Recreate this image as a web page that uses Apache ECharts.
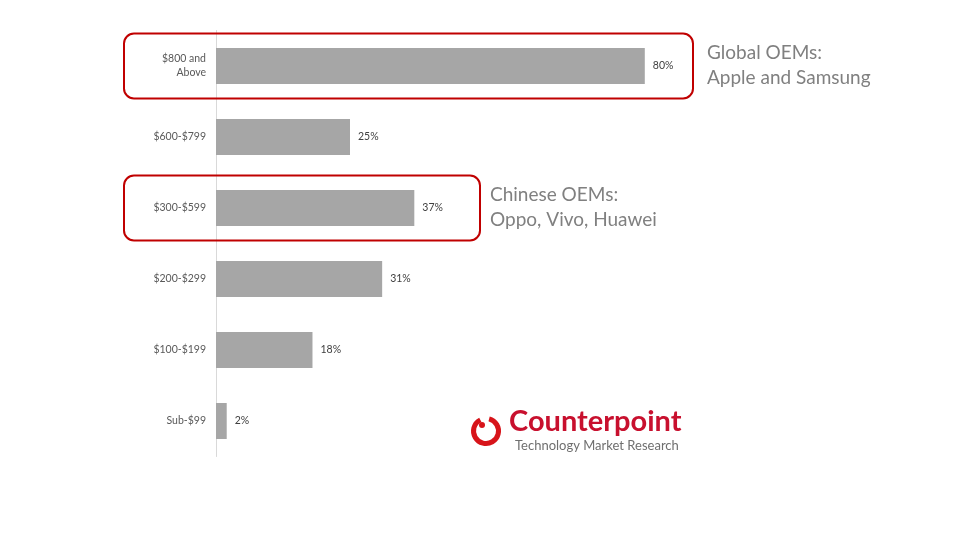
<!DOCTYPE html>
<html><head><meta charset="utf-8">
<script src="https://cdn.jsdelivr.net/npm/echarts@6/dist/echarts.min.js"></script>
<style>html,body{margin:0;padding:0;background:#fff}#c{width:960px;height:540px}</style>
</head><body><div id="c"></div>
<script>
const categories = ["$800 and\nAbove", "$600-$799", "$300-$599", "$200-$299", "$100-$199", "Sub-$99"];
const values = [80, 25, 37, 31, 18, 2];

const chart = echarts.init(document.getElementById('c'));
const FONT = 'Lato, "Open Sans", sans-serif';
chart.setOption({
  animation: false,
  backgroundColor: '#ffffff',
  grid: {left: 216, top: 30.5, width: 536, height: 426},
  xAxis: {type: 'value', min: 0, max: 100, show: false},
  yAxis: {
    type: 'category', inverse: true, data: categories,
    axisLine: {show: true, lineStyle: {color: '#d9d9d9', width: 1}},
    axisTick: {show: false},
    axisLabel: {color: '#595959', fontSize: 10.5, fontFamily: FONT, margin: 10, lineHeight: 14, align: 'right'}
  },
  series: [{
    type: 'bar', data: values, barWidth: 36,
    itemStyle: {color: '#a6a6a6'},
    label: {show: true, position: 'right', distance: 8, formatter: '{c}%', color: '#404040', fontSize: 10.5, fontFamily: FONT}
  }]
});

function box(idx, x1, x2) {
  const y = chart.convertToPixel({yAxisIndex: 0}, categories[idx]);
  return {type: 'rect', shape: {x: x1, y: y - 32.5, width: x2 - x1, height: 65, r: 10},
    style: {fill: 'none', stroke: '#c00000', lineWidth: 2}, z: 10};
}
function note(idx, x, lines) {
  const y = chart.convertToPixel({yAxisIndex: 0}, categories[idx]);
  return {type: 'text', x: x, y: y - 26, z: 10,
    style: {text: lines.join('\n'), fill: '#808080', font: '19px ' + FONT, lineHeight: 25}};
}
chart.setOption({
  graphic: [
    box(0, 124, 693), box(2, 124, 480),
    note(0, 707, ['Global OEMs:', 'Apple and Samsung']),
    note(2, 490, ['Chinese OEMs:', 'Oppo, Vivo, Huawei']),
    {type: 'arc', shape: {cx: 486, cy: 431, r: 12.5, startAngle: -Math.PI * 0.42, endAngle: Math.PI * 1.35},
      style: {stroke: '#d7141a', lineWidth: 5, fill: 'none'}, z: 10},
    {type: 'circle', shape: {cx: 482, cy: 425, r: 3}, style: {fill: '#d7141a'}, z: 10},
    {type: 'text', x: 509, y: 407, z: 10,
      style: {text: 'Counterpoint', fill: '#c8102e', font: 'bold 29px ' + FONT}},
    {type: 'text', x: 515, y: 439, z: 10,
      style: {text: 'Technology Market Research', fill: '#6f6f6f', font: '13px ' + FONT}}
  ]
});
</script></body></html>
